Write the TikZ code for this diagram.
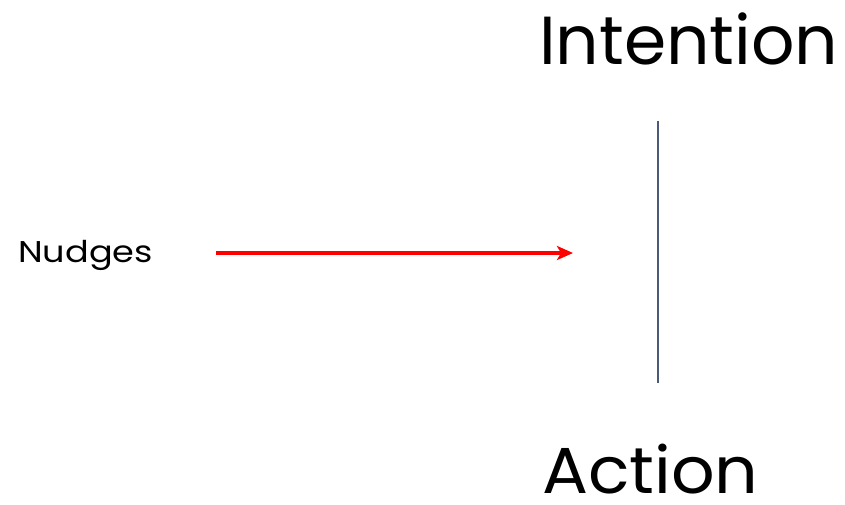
\documentclass[tikz,border=0pt]{standalone}
\usepackage{fontspec}
\setmainfont{Poppins}
\newfontfamily\actfont[FakeStretch=1.05]{Poppins}
\newfontfamily\nudfont[FakeStretch=1.17]{Poppins}
\usetikzlibrary{arrows.meta}
\definecolor{slate}{HTML}{4A5A78}
\tikzset{
  lbl/.style={anchor=base west, inner sep=0pt},
}
\begin{document}
\begin{tikzpicture}[x=1pt,y=-1pt]
\useasboundingbox (0,0) rectangle (845,504);
\node[lbl, font=\fontsize{68}{74}\selectfont] (int) at (539,64) {Intention};
\node[lbl, font=\actfont\fontsize{65}{72}\selectfont] (act) at (542,493) {Action};
\node[lbl, font=\nudfont\fontsize{30}{34}\selectfont] (nud) at (18,262) {Nudges};
\coordinate (top) at (658,121);
\coordinate (bot) at (658,383);
\draw[slate, line width=2pt] (top) -- (bot);
\coordinate (as) at (216,253);
\coordinate (ae) at (573,253);
\draw[red, line width=4pt, -{Stealth[length=16pt,width=14pt,inset=4pt]}] (as) -- (ae);
\end{tikzpicture}
\end{document}
